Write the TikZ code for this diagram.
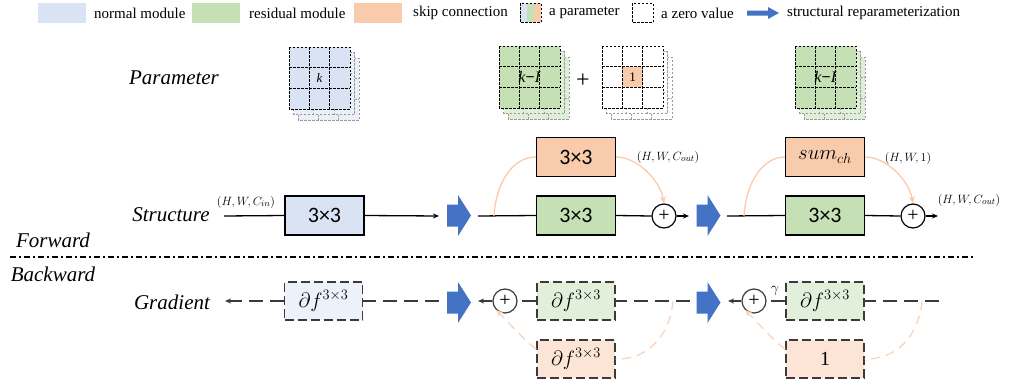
\documentclass[tikz,border=0pt]{standalone}
\usepackage{fontspec}
\setmainfont{Liberation Serif}
\newfontfamily\boxfont{Carlito}
\usetikzlibrary{arrows.meta}
\definecolor{nblue}{HTML}{DAE3F3}
\definecolor{rgreen}{HTML}{C5E0B4}
\definecolor{sorange}{HTML}{F8CBAD}
\definecolor{lblue}{HTML}{EDF1F9}
\definecolor{lgreen}{HTML}{E2EFDA}
\definecolor{lorange}{HTML}{FCE4D6}
\definecolor{ablue}{HTML}{4472C4}
\definecolor{dgray}{HTML}{3A3A3A}
\tikzset{
  lbl/.style={font=\fontsize{21}{21}\selectfont\itshape, inner sep=0},
  legtxt/.style={font=\fontsize{15}{15}\selectfont, anchor=west, inner sep=0},
  fmod/.style={draw=black, line width=1.4pt, minimum width=79pt, minimum height=39pt, inner sep=0, font=\boxfont\fontsize{22}{22}\selectfont},
  bmod/.style={draw=dgray, line width=1.4pt, dash pattern=on 9pt off 4pt, minimum width=78pt, minimum height=38pt, inner sep=0, font=\fontsize{20}{20}\selectfont},
  sumop/.style={circle, draw=black, line width=1.2pt, minimum size=24pt, inner sep=0, font=\fontsize{20}{20}\selectfont},
  conn/.style={line width=1.3pt},
  bconn/.style={line width=1.3pt, draw=dgray, dash pattern=on 14pt off 7pt},
  tip/.style={-{Stealth[length=6pt,width=5pt]}},
  skipc/.style={draw=sorange, line width=1.3pt},
  bskipc/.style={draw=sorange!80, line width=1.3pt, dash pattern=on 9pt off 6pt},
  shp/.style={font=\fontsize{13}{13}\selectfont, inner sep=0},
  kdash/.style={dash pattern=on 2.5pt off 1.5pt, line width=0.8pt}
}
% kernel grid: #1 x, #2 y (top-left), #3 front fill, #4 back fill, #5 centre fill, #6 centre text
\newcommand\kgrid[6]{%
  \foreach \dx/\dy in {9/11,4.5/5.5}{%
    \begin{scope}[shift={({#1+\dx},{#2+\dy})}]
      \fill[#4] (0,0) rectangle (61,62);
      \draw[gray!80, kdash] (0,0) rectangle (61,62);
      \foreach \i in {1,2}{\draw[gray!80, kdash] ({\i*61/3},0) -- ({\i*61/3},62); \draw[gray!80, kdash] (0,{\i*62/3}) -- (61,{\i*62/3});}
    \end{scope}}
  \begin{scope}[shift={(#1,#2)}]
    \fill[#3] (0,0) rectangle (61,62);
    \fill[#5] ({61/3},{62/3}) rectangle ({122/3},{124/3});
    \draw[black, kdash] (0,0) rectangle (61,62);
    \foreach \i in {1,2}{\draw[black, kdash] ({\i*61/3},0) -- ({\i*61/3},62); \draw[black, kdash] (0,{\i*62/3}) -- (61,{\i*62/3});}
    \node[inner sep=0] at (30.5,31) {#6};
  \end{scope}}
% block arrow centred at #1,#2
\newcommand\bluearrow[2]{%
  \fill[ablue] ({#1-12},{#2-11}) -- ({#1-1},{#2-11}) -- ({#1-1},{#2-20.5}) -- ({#1+12},{#2}) -- ({#1-1},{#2+20.5}) -- ({#1-1},{#2+11}) -- ({#1-12},{#2+11}) -- cycle;}
\begin{document}
\begin{tikzpicture}[x=1pt,y=-1pt]
\useasboundingbox (0,0) rectangle (1010,383);
% ---------- legend ----------
\fill[nblue] (38,3) rectangle (86,23);
\node[legtxt] (lg1) at (94,13) {normal module};
\fill[rgreen] (192,3) rectangle (240,23);
\node[legtxt] (lg2) at (249,13) {residual module};
\fill[sorange] (354,3) rectangle (402,23);
\node[legtxt] (lg3) at (413,13) {skip connection};
\fill[nblue] (520,3) rectangle (527,22);
\fill[rgreen] (527,3) rectangle (534,22);
\fill[sorange] (534,3) rectangle (541,22);
\draw[kdash] (520,3) rectangle (541,22);
\node[legtxt] (lg4) at (549,13) {a parameter};
\draw[kdash] (632,3) rectangle (653,22);
\node[legtxt] (lg5) at (661,13) {a zero value};
\fill[ablue] (747,10.5) -- (768,10.5) -- (768,7) -- (779,13) -- (768,19) -- (768,15.5) -- (747,15.5) -- cycle;
\node[legtxt] (lg6) at (787,13) {structural reparameterization};
% ---------- parameter row ----------
\node[lbl] (tpar) at (174,78) {Parameter};
\kgrid{289}{47}{nblue}{nblue!55}{nblue}{\fontsize{13}{13}\selectfont\textit{k}}
\kgrid{499}{46}{rgreen}{rgreen!55}{rgreen}{\fontsize{16}{16}\selectfont\textit{k}\textbf{−}\textit{I}}
\node[inner sep=0, font=\fontsize{24}{24}\selectfont] (plusk) at (583,81) {+};
\kgrid{602}{46}{white}{white}{sorange}{\fontsize{13}{13}\selectfont 1}
\kgrid{795}{46}{rgreen}{rgreen!55}{rgreen}{\fontsize{16}{16}\selectfont\textit{k}\textbf{−}\textit{I}}
% ---------- structure row ----------
\node[lbl] (tstr) at (171,215) {Structure};
\coordinate (in1) at (224,216);
\node[shp] (lin) at (246,202) {$(H,W,C_{in})$};
\node[fmod, fill=nblue] (b1) at (324.5,215.5) {3×3};
\coordinate (o1) at (439,216);
\draw[conn] (in1) -- (b1.west);
\draw[conn, tip] (b1.east) -- (o1);
\bluearrow{459}{215.5}
\coordinate (in2) at (478,216);
\coordinate (sk2) at (494,216);
\node[fmod, fill=rgreen] (b2) at (576,215.5) {3×3};
\node[fmod, fill=sorange] (s2) at (576,157) {3×3};
\node[sumop] (p1) at (664,216) {+};
\coordinate (o2) at (689,216);
\draw[conn] (in2) -- (b2.west);
\draw[conn] (b2.east) -- (p1.west);
\draw[conn, tip] (p1.east) -- (o2);
\draw[skipc] (sk2) .. controls (496,182) and (513,157) .. (s2.west);
\draw[skipc, -{Stealth[length=7pt,width=6pt]}] (s2.east) .. controls (637,157) and (660,180) .. (p1.north);
\node[shp] (l2) at (668,157) {$(H,W,C_{out})$};
\bluearrow{708.5}{215.5}
\coordinate (in3) at (727,216);
\coordinate (sk3) at (744,216);
\node[fmod, fill=rgreen] (b3) at (825,215.5) {3×3};
\node[fmod, fill=sorange, font=\fontsize{21}{21}\selectfont] (s3) at (825,157) {$sum_{ch}$};
\node[sumop] (p2) at (913,216) {+};
\coordinate (o3) at (938,216);
\draw[conn] (in3) -- (b3.west);
\draw[conn] (b3.east) -- (p2.west);
\draw[conn, tip] (p2.east) -- (o3);
\draw[skipc] (sk3) .. controls (746,182) and (763,157) .. (s3.west);
\draw[skipc, -{Stealth[length=7pt,width=6pt]}] (s3.east) .. controls (886,157) and (909,180) .. (p2.north);
\node[shp] (l3) at (908,158) {$(H,W,1)$};
\node[shp] (l4) at (969,200) {$(H,W,C_{out})$};
% ---------- separator ----------
\node[lbl] (tfw) at (53,240) {Forward};
\coordinate (sepa) at (10,257);
\coordinate (sepb) at (973,257);
\draw[line width=1.3pt, dash pattern=on 6pt off 3pt on 2pt off 3pt] (sepa) -- (sepb);
\node[lbl] (tbw) at (53,274) {Backward};
% ---------- gradient row ----------
\node[lbl] (tgr) at (172,302) {Gradient};
\node[bmod, fill=lblue] (g1) at (323.5,301) {$\partial f^{3\times3}$};
\coordinate (go1) at (225,301);
\coordinate (gi1) at (439,301);
\draw[bconn, tip] (g1.west) -- (go1);
\draw[bconn] (gi1) -- (g1.east);
\bluearrow{459}{302.5}
\node[sumop, draw=dgray] (p3) at (505,301) {+};
\coordinate (go2) at (478,301);
\node[bmod, fill=lgreen] (g2) at (576,301) {$\partial f^{3\times3}$};
\node[bmod, fill=lorange] (g2s) at (576,359) {$\partial f^{3\times3}$};
\coordinate (gi2) at (690,301);
\coordinate (gk2) at (673,301);
\draw[conn, draw=dgray, tip] (p3.west) -- (go2);
\draw[bconn] (g2.west) -- (p3.east);
\draw[bconn] (gi2) -- (g2.east);
\draw[bskipc] (gk2) .. controls (670,335) and (648,360) .. (g2s.east);
\draw[bskipc, -{Stealth[length=7pt,width=6pt]}] ([yshift=-10pt]g2s.north west) .. controls (524,340) and (512,326) .. (p3.south west);
\bluearrow{708.5}{302.5}
\node[sumop, draw=dgray] (p4) at (754,301) {+};
\coordinate (go3) at (728,301);
\node[bmod, fill=lgreen] (g3) at (825,301) {$\partial f^{3\times3}$};
\node[bmod, fill=lorange] (g3s) at (825,359) {1};
\coordinate (gi3) at (939,301);
\coordinate (gk3) at (922,301);
\draw[conn, draw=dgray, tip] (p4.west) -- (go3);
\draw[bconn] (g3.west) -- (p4.east);
\node[shp, font=\fontsize{15}{15}\selectfont] (gam) at (775,291) {$\gamma$};
\draw[bconn] (gi3) -- (g3.east);
\draw[bskipc] (gk3) .. controls (919,335) and (897,360) .. (g3s.east);
\draw[bskipc, -{Stealth[length=7pt,width=6pt]}] ([yshift=-10pt]g3s.north west) .. controls (773,340) and (761,326) .. (p4.south west);
\end{tikzpicture}
\end{document}
